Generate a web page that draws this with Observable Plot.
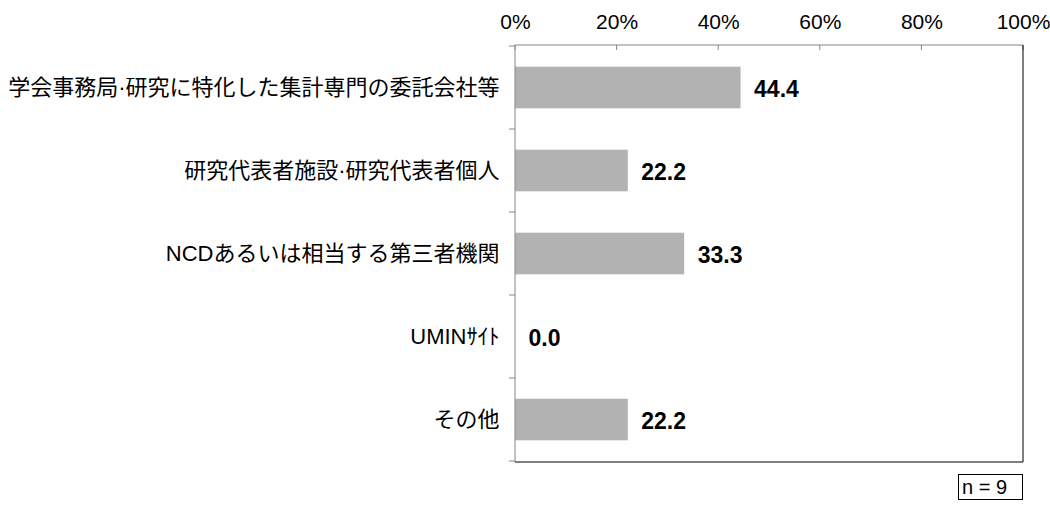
<!DOCTYPE html>
<html>
<head>
<meta charset="utf-8">
<script src="https://cdn.jsdelivr.net/npm/d3@7"></script>
<script src="https://cdn.jsdelivr.net/npm/@observablehq/plot@0.6"></script>
<style>
  body { margin: 0; background: #fff; }
  #chart svg { display: block; }
  #n { margin: 4px 0 0 958px; width: 60px; height: 24px; border: 1px solid #000;
       font: 20px "Liberation Sans", Arial, sans-serif; line-height: 24px; padding-left: 3px; color:#000; box-sizing: content-box; }
</style>
</head>
<body>
<div id="chart"></div>
<div id="n">n = 9</div>
<script>
const categories = [
  "学会事務局·研究に特化した集計専門の委託会社等",
  "研究代表者施設·研究代表者個人",
  "NCDあるいは相当する第三者機関",
  "UMINｻｲﾄ",
  "その他"
];
const values = [44.4, 22.2, 33.3, 0.0, 22.2];
const xTicks = [0, 20, 40, 60, 80, 100];

const data = categories.map((c, i) => ({category: c, value: values[i]}));

function frameMark(index, scales, values, dims) {
  const {width, height, marginLeft, marginRight, marginTop, marginBottom} = dims;
  const g = d3.create("svg:g");
  const L = marginLeft, R = width - marginRight, T = marginTop, B = height - marginBottom;
  const gray = "#868686";
  for (const t of xTicks) {
    const x = scales.x(t);
    g.append("line").attr("x1", x).attr("x2", x).attr("y1", T).attr("y2", T + 5).attr("stroke", gray);
  }
  const bw = scales.y.bandwidth ? scales.y.bandwidth() : 0;
  const ys = categories.map(c => scales.y(c));
  ys.push(ys[ys.length - 1] + bw);
  for (const y of ys) {
    g.append("line").attr("x1", L - 6).attr("x2", L).attr("y1", y).attr("y2", y).attr("stroke", gray);
  }
  g.append("line").attr("x1", L).attr("x2", R).attr("y1", T).attr("y2", T).attr("stroke", gray);
  g.append("line").attr("x1", L).attr("x2", L).attr("y1", T).attr("y2", B).attr("stroke", gray);
  g.append("line").attr("x1", R).attr("x2", R).attr("y1", T).attr("y2", B).attr("stroke", "#000");
  g.append("line").attr("x1", L).attr("x2", R).attr("y1", B).attr("y2", B).attr("stroke", "#000");
  return g.node();
}

const chart = Plot.plot({
  width: 1050,
  height: 470,
  marginTop: 45,
  marginBottom: 8,
  marginLeft: 515,
  marginRight: 27,
  style: {fontFamily: '"Liberation Sans", "Noto Sans CJK JP", Arial, sans-serif', color: "#000", background: "#fff"},
  x: {domain: [0, 100], ticks: xTicks},
  y: {domain: categories, padding: 0},
  marks: [
    Plot.barX(data, {x: "value", y: "category", fill: "#b2b2b2", insetTop: 20.7, insetBottom: 20.7}),
    Plot.text(data, {x: "value", y: "category", text: d => d.value.toFixed(1), textAnchor: "start", dx: 13, dy: 2,
      fontWeight: "bold", fontSize: 23, fill: "#000"}),
    Plot.axisX({anchor: "top", ticks: xTicks, tickSize: 0, tickPadding: 17, fontSize: 21,
      tickFormat: d => d + "%", label: null}),
    Plot.axisY({tickSize: 0, tickPadding: 16, fontSize: 22, label: null}),
    frameMark
  ]
});
document.getElementById("chart").append(chart);
</script>
</body>
</html>
